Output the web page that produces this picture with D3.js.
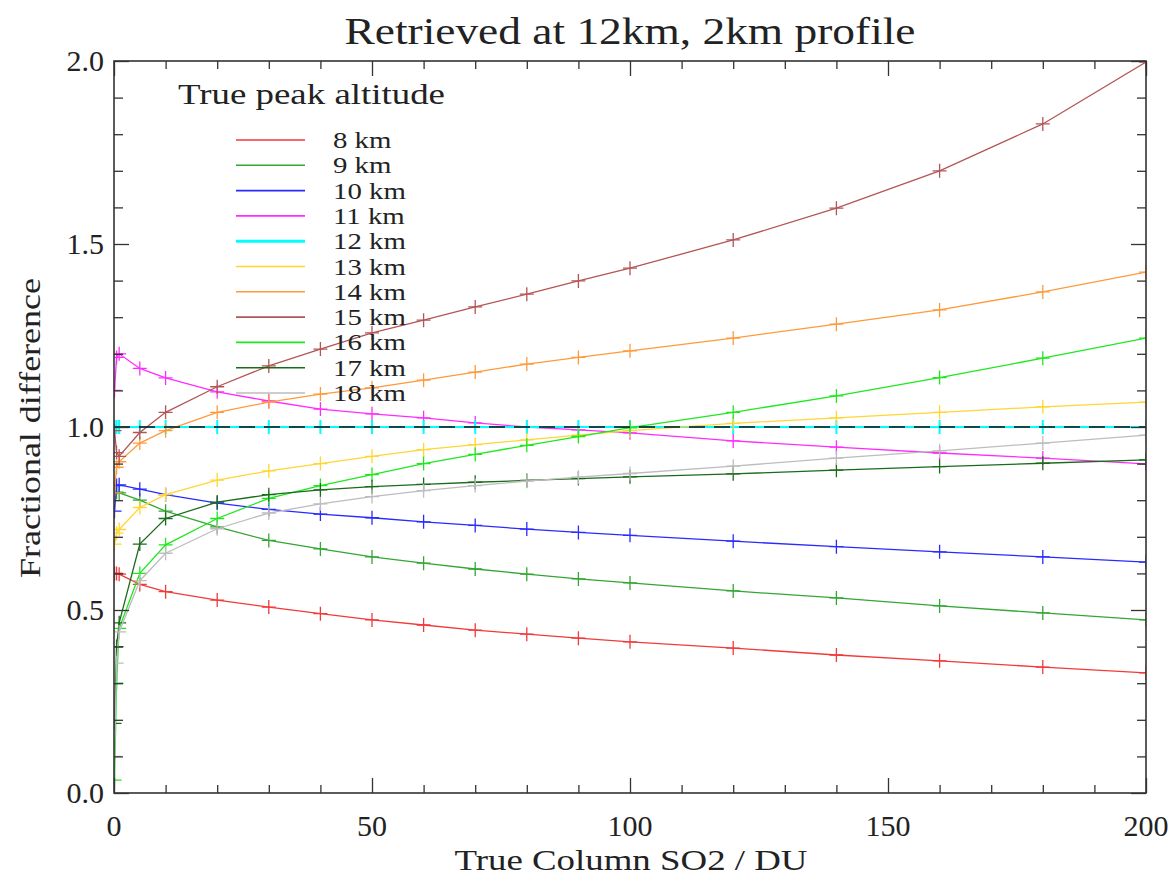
<!DOCTYPE html>
<html><head><meta charset="utf-8">
<script src="https://cdn.jsdelivr.net/npm/d3@7"></script>
<style>body{margin:0;background:#fff}svg{display:block}text{font-family:"Liberation Serif","DejaVu Serif",serif;fill:#222}</style>
</head><body><svg id="c" width="1176" height="878"></svg>
<script>
const xValues = [0.1,0.5,1,5,10,20,30,40,50,60,70,80,90,100,120,140,160,180,200];
const seriesNames = ["8 km","9 km","10 km","11 km","12 km","13 km","14 km","15 km","16 km","17 km","18 km"];
const seriesColors = ["#f23a3a","#33a633","#2a2aff","#ff2cff","#00ffff","#ffd633","#ff9a3a","#b35555","#1ee81e","#1a6b1a","#bdbdbd"];
const s8  = [0.600,0.600,0.598,0.570,0.550,0.527,0.508,0.490,0.473,0.459,0.445,0.434,0.423,0.413,0.396,0.377,0.361,0.344,0.328];
const s9  = [0.820,0.822,0.820,0.800,0.770,0.727,0.690,0.667,0.645,0.628,0.612,0.598,0.585,0.574,0.552,0.533,0.511,0.492,0.473];
const s10 = [0.770,0.840,0.842,0.830,0.815,0.792,0.775,0.762,0.752,0.741,0.731,0.721,0.712,0.704,0.688,0.673,0.659,0.645,0.631];
const s11 = [1.100,1.190,1.200,1.160,1.134,1.096,1.071,1.049,1.036,1.025,1.011,1.000,0.992,0.984,0.962,0.945,0.929,0.915,0.899];
const s12 = [1,1,1,1,1,1,1,1,1,1,1,1,1,1,1,1,1,1,1];
const s13 = [0.680,0.710,0.720,0.780,0.815,0.855,0.880,0.900,0.920,0.938,0.952,0.965,0.978,0.990,1.010,1.025,1.040,1.055,1.068];
const s14 = [0.820,0.890,0.905,0.956,0.990,1.040,1.068,1.090,1.107,1.128,1.150,1.172,1.190,1.208,1.243,1.281,1.320,1.369,1.423];
const s15 = [0.990,0.930,0.920,0.985,1.040,1.110,1.167,1.213,1.257,1.292,1.328,1.363,1.399,1.434,1.511,1.598,1.700,1.828,1.997];
const s16 = [0.035,0.300,0.450,0.600,0.678,0.750,0.805,0.840,0.870,0.900,0.925,0.950,0.974,0.998,1.040,1.085,1.135,1.188,1.243];
const s17 = [0.190,0.400,0.465,0.680,0.750,0.795,0.815,0.828,0.837,0.843,0.849,0.854,0.859,0.864,0.872,0.882,0.892,0.901,0.910];
const s18 = [0.100,0.355,0.440,0.580,0.655,0.722,0.765,0.790,0.810,0.826,0.840,0.852,0.863,0.873,0.893,0.915,0.935,0.956,0.978];
const seriesValues = [s8,s9,s10,s11,s12,s13,s14,s15,s16,s17,s18];
const xTickValues = [0,50,100,150,200];
const yTickValues = [0.0,0.5,1.0,1.5,2.0];
const referenceValue = 1.0;

const svg = d3.select("#c");
const L=114, R=1146, T=61, B=793;
const x = d3.scaleLinear().domain([0,200]).range([L,R]);
const y = d3.scaleLinear().domain([0,2]).range([B,T]);

function stretch(sel, factor){
  sel.each(function(){
    const w = this.getComputedTextLength();
    d3.select(this).attr("textLength", w*factor).attr("lengthAdjust","spacingAndGlyphs");
  });
}

svg.append("defs").append("clipPath").attr("id","clip")
  .append("rect").attr("x",L).attr("y",T).attr("width",R-L).attr("height",B-T);

const plot = svg.append("g").attr("clip-path","url(#clip)");
const line = d3.line().x((d,i)=>x(xValues[i])).y(d=>y(d));

seriesValues.forEach((vals,k)=>{
  const g = plot.append("g");
  g.append("path").attr("d",line(vals)).attr("fill","none")
    .attr("stroke",seriesColors[k]).attr("stroke-width",k===4?2:1.3);
  g.selectAll("path.m").data(vals).enter().append("path").attr("class","m")
    .attr("d",(d,i)=>{const cx=x(xValues[i]),cy=y(d);return `M${cx-7},${cy}H${cx+7}M${cx},${cy-7}V${cy+7}`;})
    .attr("stroke",seriesColors[k]).attr("stroke-width",k===4?2:1.3);
});

plot.append("line").attr("x1",L).attr("x2",R).attr("y1",y(referenceValue)).attr("y2",y(referenceValue))
  .attr("stroke","#111").attr("stroke-width",1.4).attr("stroke-dasharray","16,9");

const axCol="#333";
const gx = svg.append("g").attr("transform",`translate(0,${B})`)
  .call(d3.axisTop(x).tickValues(d3.range(0,201,10)).tickSize(8).tickFormat(""));
gx.selectAll(".tick").filter(d=>d%50===0).select("line").attr("y2",-15);
const gxt = svg.append("g").attr("transform",`translate(0,${T})`)
  .call(d3.axisBottom(x).tickValues(d3.range(0,201,10)).tickSize(8).tickFormat(""));
gxt.selectAll(".tick").filter(d=>d%50===0).select("line").attr("y2",15);
const gy = svg.append("g").attr("transform",`translate(${L},0)`)
  .call(d3.axisRight(y).tickValues(d3.range(0,21).map(v=>v/10)).tickSize(9).tickFormat(""));
gy.selectAll(".tick").filter(d=>Math.abs(d*2-Math.round(d*2))<1e-6).select("line").attr("x2",15);
const gyr = svg.append("g").attr("transform",`translate(${R},0)`)
  .call(d3.axisLeft(y).tickValues(d3.range(0,21).map(v=>v/10)).tickSize(9).tickFormat(""));
gyr.selectAll(".tick").filter(d=>Math.abs(d*2-Math.round(d*2))<1e-6).select("line").attr("x2",-15);
[gx,gxt,gy,gyr].forEach(g=>{g.select(".domain").remove();g.selectAll("line").attr("stroke",axCol).attr("stroke-width",1.3);});
svg.append("rect").attr("x",L).attr("y",T).attr("width",R-L).attr("height",B-T)
  .attr("fill","none").attr("stroke",axCol).attr("stroke-width",1.6);

svg.selectAll("text.xt").data(xTickValues).enter().append("text").attr("class","xt")
  .attr("x",d=>x(d)).attr("y",836).attr("text-anchor","middle").attr("font-size",30).text(d=>d);
svg.selectAll("text.yt").data(yTickValues).enter().append("text").attr("class","yt")
  .attr("x",104).attr("y",d=>y(d)+10).attr("text-anchor","end").attr("font-size",30).text(d=>d.toFixed(1));

svg.append("text").attr("x",630).attr("y",44).attr("text-anchor","middle").attr("font-size",38)
  .text("Retrieved at 12km, 2km profile").attr("textLength",571).attr("lengthAdjust","spacingAndGlyphs");
svg.append("text").attr("x",631).attr("y",870).attr("text-anchor","middle").attr("font-size",30)
  .text("True Column SO2 / DU").attr("textLength",353).attr("lengthAdjust","spacingAndGlyphs");
svg.append("text").attr("transform","translate(40,428) rotate(-90)").attr("text-anchor","middle").attr("font-size",30)
  .text("Fractional difference").attr("textLength",300).attr("lengthAdjust","spacingAndGlyphs");

svg.append("text").attr("x",178).attr("y",104).attr("font-size",29).text("True peak altitude")
  .attr("textLength",267).attr("lengthAdjust","spacingAndGlyphs");
const lg = svg.append("g");
seriesNames.forEach((n,k)=>{
  const ly = 140 + k*25.3;
  lg.append("line").attr("x1",236).attr("x2",305).attr("y1",ly).attr("y2",ly)
    .attr("stroke",seriesColors[k]).attr("stroke-width",k===4?3:1.6);
  const t = lg.append("text").attr("x",333).attr("y",ly+8).attr("font-size",24).text(n);
  stretch(t,1.2);
});
</script></body></html>
